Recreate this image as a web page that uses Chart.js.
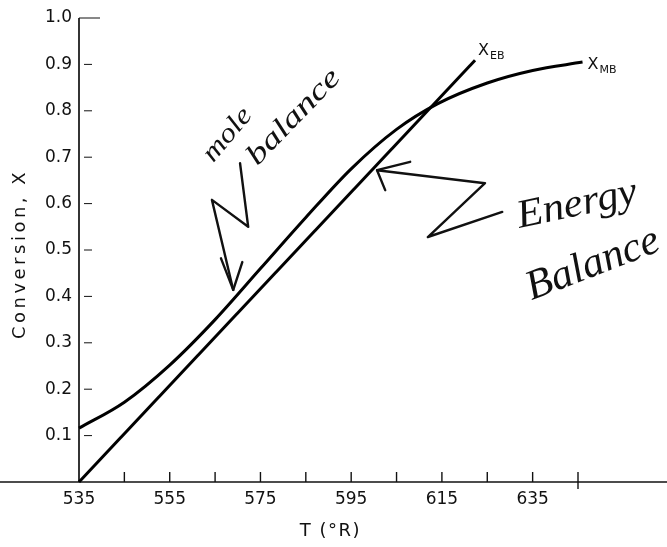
<!DOCTYPE html>
<html>
<head>
<meta charset="utf-8">
<script src="https://cdn.jsdelivr.net/npm/chart.js@4.4.0/dist/chart.umd.min.js"></script>
<style>
  html, body { margin: 0; padding: 0; background: #fff; }
  #wrap { width: 667px; height: 547px; position: relative; }
</style>
</head>
<body>
<div id="wrap"><canvas id="conversionChart"></canvas></div>
<script>
// Mole balance curve X_MB(T)
const tempMB = [535, 545, 555, 565, 575, 585, 595, 605, 614, 625, 635, 646];
const convMB = [0.116, 0.172, 0.252, 0.350, 0.460, 0.570, 0.675, 0.760, 0.815, 0.860, 0.887, 0.905];

// Energy balance line X_EB(T)
const tempEB = [535, 622.3];
const convEB = [0, 0.909];

// Axis ticks
const xTicks = [535, 545, 555, 565, 575, 585, 595, 605, 615, 625, 635, 645];
const xTickLabels = [535, 555, 575, 595, 615, 635];
const yTicks = [0, 0.1, 0.2, 0.3, 0.4, 0.5, 0.6, 0.7, 0.8, 0.9, 1.0];

const ink = "#111";
const tickFont = { family: "DejaVu Sans", size: 17 };

// Handwritten notes (positions in data units: T, X)
const notes = [
  { text: "mole", t: 567.8, x: 0.748, angle: -50, width: 62, size: 27 },
  { text: "balance", t: 582.4, x: 0.786, angle: -46, width: 122, size: 29 },
  { text: "Energy", t: 644.8, x: 0.597, angle: -12, width: 122, size: 40 },
  { text: "Balance", t: 648.3, x: 0.468, angle: -21, width: 140, size: 42 }
];
const moleArrow = [[570.5, 0.687], [572.3, 0.550], [564.3, 0.608], [569.0, 0.414]];
const moleBarbs = [[566.3, 0.482], [569.0, 0.414], [571.0, 0.474]];
const energyArrow = [[628.3, 0.582], [611.9, 0.528], [624.5, 0.644], [600.7, 0.672]];
const energyBarbs = [[608.0, 0.690], [600.7, 0.672], [602.5, 0.629]];

function toPoints(ts, xs) {
  return ts.map((t, i) => ({ x: t, y: xs[i] }));
}

function strokePath(ctx, chart, pts) {
  const sx = chart.scales.x, sy = chart.scales.y;
  ctx.beginPath();
  pts.forEach(([t, x], i) => {
    const px = sx.getPixelForValue(t), py = sy.getPixelForValue(x);
    if (i === 0) ctx.moveTo(px, py); else ctx.lineTo(px, py);
  });
  ctx.stroke();
}

const figureDecor = {
  id: "figureDecor",
  beforeDatasetsDraw(chart) {
    const ctx = chart.ctx;
    const { left, bottom } = chart.chartArea;
    const sx = chart.scales.x, sy = chart.scales.y;
    ctx.save();
    ctx.strokeStyle = ink;
    // full-width baseline
    ctx.lineWidth = 1.3;
    ctx.beginPath();
    ctx.moveTo(0, bottom);
    ctx.lineTo(chart.width, bottom);
    ctx.stroke();
    // y axis
    ctx.lineWidth = 1.7;
    ctx.beginPath();
    ctx.moveTo(left, bottom);
    ctx.lineTo(left, sy.getPixelForValue(1.0));
    ctx.stroke();
    // x ticks pointing inward
    ctx.lineWidth = 1.4;
    xTicks.forEach((v, i) => {
      if (i === 0) return;
      const px = sx.getPixelForValue(v);
      ctx.beginPath();
      ctx.moveTo(px, bottom - 10);
      ctx.lineTo(px, i === xTicks.length - 1 ? bottom + 7 : bottom);
      ctx.stroke();
    });
    // y ticks as small dashes
    ctx.lineWidth = 1;
    yTicks.forEach(v => {
      if (v === 0) return;
      const py = sy.getPixelForValue(v);
      ctx.beginPath();
      if (v === 1.0) {
        ctx.moveTo(left, py);
        ctx.lineTo(left + 21, py);
      } else {
        ctx.moveTo(left + 5, py);
        ctx.lineTo(left + 13, py);
      }
      ctx.stroke();
    });
    ctx.restore();
  },
  afterDatasetsDraw(chart) {
    const ctx = chart.ctx;
    const { left, right, top, bottom } = chart.chartArea;
    const sx = chart.scales.x, sy = chart.scales.y;
    ctx.save();
    ctx.fillStyle = ink;
    ctx.strokeStyle = ink;

    // end labels X_MB and X_EB
    const endLabel = (dsIndex, sub, dx, dy) => {
      const pts = chart.getDatasetMeta(dsIndex).data;
      const p = pts[pts.length - 1];
      ctx.font = '16px "DejaVu Sans"';
      ctx.textAlign = "left";
      ctx.textBaseline = "alphabetic";
      ctx.fillText("X", p.x + dx, p.y + dy);
      const w = ctx.measureText("X").width;
      ctx.font = '11px "DejaVu Sans"';
      ctx.fillText(sub, p.x + dx + w + 1, p.y + dy + 4);
    };
    endLabel(0, "MB", 5, 7);
    endLabel(1, "EB", 3, -5);

    // axis titles
    ctx.font = '18px "DejaVu Sans"';
    ctx.textAlign = "center";
    ctx.textBaseline = "middle";
    ctx.letterSpacing = "1.5px";
    ctx.fillText("T (°R)", (left + right) / 2 + 2, 531);
    ctx.letterSpacing = "3.5px";
    ctx.save();
    ctx.translate(20, (top + bottom) / 2 + 4);
    ctx.rotate(-Math.PI / 2);
    ctx.fillText("Conversion, X", 0, 0);
    ctx.restore();
    ctx.letterSpacing = "0px";

    // handwritten notes
    notes.forEach(n => {
      ctx.save();
      ctx.translate(sx.getPixelForValue(n.t), sy.getPixelForValue(n.x));
      ctx.rotate(n.angle * Math.PI / 180);
      ctx.font = `italic ${n.size}px "Liberation Serif"`;
      const w = ctx.measureText(n.text).width;
      ctx.scale(n.width / w, 1);
      ctx.textAlign = "center";
      ctx.textBaseline = "middle";
      ctx.fillText(n.text, 0, 0);
      ctx.restore();
    });

    // hand-drawn arrows
    ctx.lineWidth = 2.4;
    ctx.lineJoin = "round";
    ctx.lineCap = "round";
    [moleArrow, moleBarbs, energyArrow, energyBarbs].forEach(p => strokePath(ctx, chart, p));
    ctx.restore();
  }
};

const ctxConv = document.getElementById("conversionChart");
new Chart(ctxConv, {
  type: "line",
  data: {
    datasets: [
      {
        label: "X_MB",
        data: toPoints(tempMB, convMB),
        borderColor: "#000",
        borderWidth: 3,
        pointRadius: 0,
        cubicInterpolationMode: "monotone",
        clip: false
      },
      {
        label: "X_EB",
        data: toPoints(tempEB, convEB),
        borderColor: "#000",
        borderWidth: 3,
        pointRadius: 0,
        tension: 0,
        clip: false
      }
    ]
  },
  options: {
    responsive: true,
    maintainAspectRatio: false,
    animation: false,
    layout: { padding: { top: 18, right: 89, left: 0, bottom: 0 } },
    plugins: {
      legend: { display: false },
      tooltip: { enabled: false }
    },
    scales: {
      x: {
        type: "linear",
        min: 535,
        max: 645,
        afterBuildTicks: axis => { axis.ticks = xTicks.map(v => ({ value: v })); },
        afterFit: axis => { axis.height = 65; },
        ticks: {
          autoSkip: false,
          maxRotation: 0,
          padding: 7,
          color: ink,
          font: tickFont,
          callback: v => xTickLabels.includes(v) ? String(v) : ""
        },
        grid: { display: false, drawTicks: false },
        border: { display: false }
      },
      y: {
        min: 0,
        max: 1,
        afterBuildTicks: axis => { axis.ticks = yTicks.map(v => ({ value: v })); },
        afterFit: axis => { axis.width = 79; },
        ticks: {
          padding: 7,
          color: ink,
          font: tickFont,
          callback: v => v === 0 ? "" : v.toFixed(1)
        },
        grid: { display: false, drawTicks: false },
        border: { display: false }
      }
    }
  },
  plugins: [figureDecor]
});
</script>
</body>
</html>
